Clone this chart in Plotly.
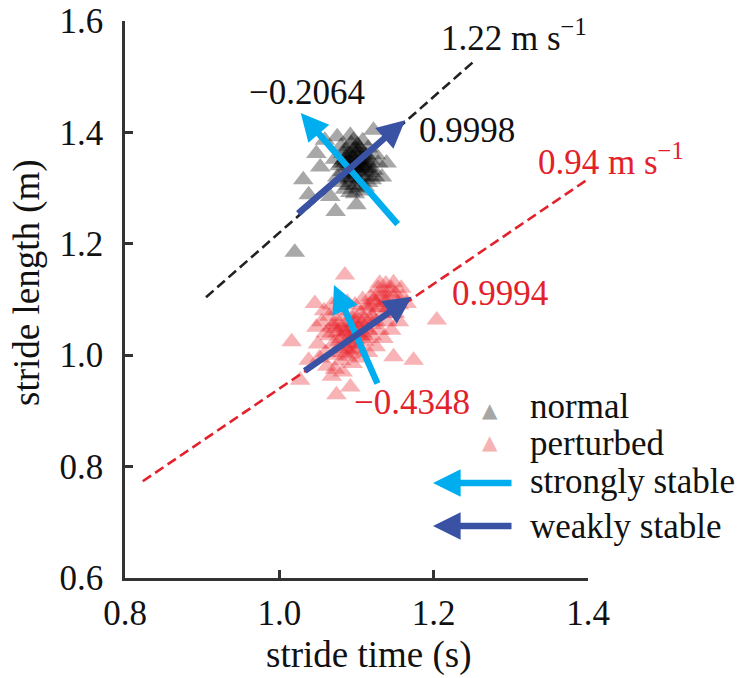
import plotly.graph_objects as go

# ---------------- data ----------------
normal_t = [1.085, 1.092, 1.098, 1.105, 1.110, 1.100, 1.088, 1.095, 1.112, 1.118,
            1.104, 1.096, 1.083, 1.078, 1.090, 1.102, 1.115, 1.122, 1.125, 1.108,
            1.093, 1.080, 1.072, 1.075, 1.085, 1.098, 1.110, 1.120, 1.128, 1.115,
            1.100, 1.094, 1.106, 1.089, 1.112, 1.097, 1.103, 1.087, 1.101, 1.082,
            1.118, 1.092, 1.107, 1.099, 1.091, 1.113, 1.079, 1.124, 1.096, 1.086,
            1.098, 1.104, 1.093, 1.109, 1.088, 1.101, 1.095, 1.107, 1.114, 1.090,
            1.084, 1.097, 1.102, 1.111, 1.093, 1.099, 1.106, 1.089, 1.116, 1.081,
            1.020, 1.073, 1.100, 1.031, 1.038, 1.059, 1.075, 1.122, 1.139, 1.133,
            1.048, 1.053, 1.092, 1.111, 1.066]
normal_l = [1.345, 1.352, 1.338, 1.330, 1.342, 1.360, 1.325, 1.318, 1.322, 1.350,
            1.372, 1.368, 1.362, 1.340, 1.305, 1.300, 1.310, 1.332, 1.360, 1.385,
            1.380, 1.375, 1.352, 1.320, 1.298, 1.290, 1.295, 1.315, 1.345, 1.372,
            1.345, 1.335, 1.352, 1.338, 1.335, 1.325, 1.312, 1.355, 1.378, 1.330,
            1.328, 1.292, 1.365, 1.350, 1.315, 1.358, 1.310, 1.320, 1.386, 1.370,
            1.340, 1.348, 1.344, 1.336, 1.348, 1.332, 1.356, 1.320, 1.345, 1.362,
            1.350, 1.305, 1.365, 1.355, 1.328, 1.372, 1.340, 1.318, 1.338, 1.345,
            1.185, 1.258, 1.270, 1.315, 1.288, 1.386, 1.392, 1.404, 1.345, 1.320,
            1.362, 1.338, 1.395, 1.302, 1.285]

pert_t = [1.085, 1.016, 1.204, 1.174, 1.148, 1.074, 1.038, 1.027, 1.046, 1.130,
          1.092, 1.165, 1.068,
          1.060, 1.070, 1.080, 1.090, 1.100, 1.110, 1.120, 1.130, 1.140, 1.150,
          1.145, 1.135, 1.125, 1.115, 1.105, 1.095, 1.085, 1.075, 1.065, 1.055,
          1.050, 1.060, 1.070, 1.080, 1.090, 1.100, 1.110, 1.120, 1.130, 1.140,
          1.150, 1.155, 1.160, 1.158, 1.148, 1.138, 1.128, 1.118, 1.108, 1.098,
          1.088, 1.078, 1.068, 1.058, 1.048, 1.052, 1.062, 1.072, 1.082, 1.095,
          1.105, 1.115, 1.125, 1.135, 1.145, 1.155, 1.100, 1.090, 1.080, 1.070,
          1.110, 1.120, 1.095, 1.085, 1.075, 1.065, 1.105, 1.115, 1.125, 1.135,
          1.142, 1.152, 1.098, 1.088,
          1.083, 1.093, 1.103, 1.078, 1.088, 1.098, 1.108, 1.073, 1.087, 1.097,
          1.113, 1.123, 1.133, 1.143, 1.138, 1.128, 1.118, 1.092, 1.082, 1.102,
          1.068, 1.077, 1.112, 1.107, 1.096, 1.086, 1.076, 1.117, 1.127, 1.091]
pert_l = [1.144, 1.024, 1.063, 0.991, 0.997, 0.929, 0.991, 0.955, 1.093, 1.129,
          0.943, 1.093, 0.962,
          1.040, 1.055, 1.030, 1.045, 1.060, 1.050, 1.070, 1.085, 1.100, 1.110,
          1.120, 1.115, 1.095, 1.080, 1.075, 1.065, 1.070, 1.080, 1.070, 1.060,
          1.020, 1.005, 1.000, 0.990, 1.010, 1.020, 1.025, 1.035, 1.045, 1.060,
          1.075, 1.090, 1.105, 1.120, 1.130, 1.128, 1.120, 1.105, 1.100, 1.090,
          1.095, 1.100, 1.090, 1.080, 1.050, 0.995, 0.980, 0.975, 0.970, 0.985,
          0.995, 1.005, 1.015, 1.030, 1.045, 1.060, 1.040, 1.030, 1.050, 1.020,
          1.065, 1.055, 1.050, 1.015, 1.040, 1.035, 1.035, 1.045, 1.060, 1.075,
          1.085, 1.098, 1.008, 0.998,
          1.042, 1.038, 1.048, 1.025, 1.020, 1.028, 1.040, 1.048, 1.058, 1.072,
          1.088, 1.098, 1.105, 1.112, 1.095, 1.085, 1.062, 1.002, 1.005, 1.012,
          1.052, 1.012, 1.030, 1.058, 1.058, 1.043, 1.060, 1.090, 1.108, 1.022]

# speed lines (stride length = speed * stride time)
speeds = [1.22, 0.94]
speed_t_range = [[0.905, 1.255], [0.823, 1.400]]

# stability arrows: (tail_t, tail_l, tip_t, tip_l)
normal_weak = (1.0225, 1.252, 1.163, 1.422)
normal_strong = (1.155, 1.2325, 1.0277, 1.435)
pert_weak = (1.031, 0.970, 1.1715, 1.105)
pert_strong = (1.128, 0.9465, 1.0708, 1.126)

x_ticks = [0.8, 1.0, 1.2, 1.4]
y_ticks = [0.6, 0.8, 1.0, 1.2, 1.4, 1.6]

BLACK = "#111111"
RED = "#E3212B"
LBLUE = "#00AEEF"
DBLUE = "#3A52A4"
FONT = "Liberation Serif"

fig = go.Figure()

# dashed speed lines
for s, (t0, t1), col in zip(speeds, speed_t_range, ["#222222", RED]):
    fig.add_trace(go.Scatter(x=[t0, t1], y=[s * t0, s * t1], mode="lines",
                             line=dict(color=col, width=2.6, dash="10px,5px"),
                             showlegend=False, hoverinfo="skip"))

fig.add_trace(go.Scatter(x=normal_t, y=normal_l, mode="markers",
                         marker=dict(symbol="triangle-up", size=18,
                                     color="rgba(0,0,0,0.34)", line=dict(width=0)),
                         showlegend=False))
fig.add_trace(go.Scatter(x=pert_t, y=pert_l, mode="markers",
                         marker=dict(symbol="triangle-up", size=18,
                                     color="rgba(232,32,42,0.34)", line=dict(width=0)),
                         showlegend=False))

def arrow(a, color):
    t0, l0, t1, l1 = a
    fig.add_annotation(x=t1, y=l1, ax=t0, ay=l0, xref="x", yref="y",
                       axref="x", ayref="y", text="", showarrow=True,
                       arrowhead=2, arrowsize=0.85, arrowwidth=6.5,
                       arrowcolor=color, standoff=0)

arrow(normal_strong, LBLUE)
arrow(normal_weak, DBLUE)
arrow(pert_strong, LBLUE)
arrow(pert_weak, DBLUE)

# px -> paper helpers for label placement
def px(xp):
    return (xp - 125) / 463.0

def py(yp):
    return (578 - yp) / 557.0

def label(txt, xx, yy, col, size=35, xanchor="center", angle=0, family=FONT):
    fig.add_annotation(x=px(xx), y=py(yy), xref="paper", yref="paper",
                       text=txt, showarrow=False, xanchor=xanchor, yanchor="middle",
                       textangle=angle, font=dict(family=family, size=size, color=col))

labels = [
    ("1.22 m s<sup>−1</sup>", 514, 36, BLACK),
    ("0.94 m s<sup>−1</sup>", 611, 160, RED),
    ("0.9998", 467, 130, BLACK),
    ("−0.2064", 307, 92, BLACK),
    ("0.9994", 500, 293, RED),
    ("−0.4348", 412, 402, RED),
]
for txt, xx, yy, col in labels:
    label(txt, xx, yy, col)

# legend (manual)
leg_items = [("normal", 406), ("perturbed", 443), ("strongly stable", 481), ("weakly stable", 526)]
for txt, yy in leg_items:
    label(txt, 528, yy, BLACK, xanchor="left")
label("▲", 490, 410, "#A6A6A6", size=20, family="DejaVu Sans")
label("▲", 490, 442, "#F5B3B6", size=20, family="DejaVu Sans")
for yy, col in [(483, LBLUE), (526, DBLUE)]:
    fig.add_annotation(x=px(433), y=py(yy), xref="paper", yref="paper",
                       ax=80, ay=0, axref="pixel", ayref="pixel", text="", showarrow=True,
                       arrowhead=2, arrowsize=0.85, arrowwidth=6.5, arrowcolor=col, standoff=0)

# axis titles
label("stride time (s)", 369, 655, BLACK, size=37)
label("stride length (m)", 27, 283, BLACK, size=37, angle=-90)

axis_common = dict(showline=True, linecolor="#333333", linewidth=2.5, ticks="inside",
                   ticklen=8, tickwidth=2.5, tickcolor="#333333", showgrid=False,
                   zeroline=False, automargin=False,
                   tickfont=dict(family=FONT, size=35, color=BLACK))
fig.update_xaxes(range=[0.8, 1.4], tickvals=x_ticks,
                 ticktext=[f"{v:.1f}" for v in x_ticks], ticklabelstandoff=2, **axis_common)
fig.update_yaxes(range=[0.6, 1.6], tickvals=y_ticks,
                 ticktext=[f"{v:.1f}" for v in y_ticks], ticklabelstandoff=12, **axis_common)

fig.update_layout(width=748, height=678, margin=dict(l=125, r=160, t=21, b=100, autoexpand=False),
                  plot_bgcolor="white", paper_bgcolor="white", showlegend=False)

fig.write_html("out.html", config={"displayModeBar": False},
               post_script="document.body.style.margin='0px';document.body.style.overflow='hidden';")
